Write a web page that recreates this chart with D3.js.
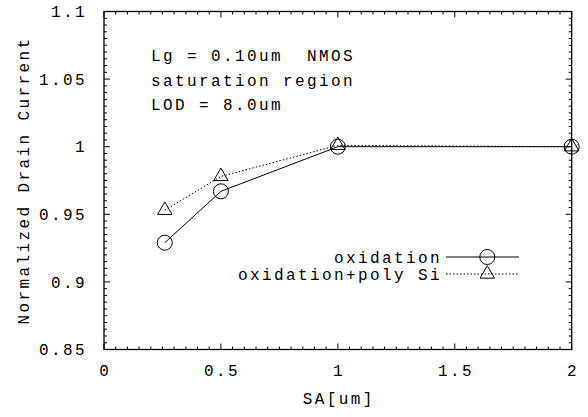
<!DOCTYPE html>
<html>
<head>
<meta charset="utf-8">
<script src="https://cdn.jsdelivr.net/npm/d3@7"></script>
<style>
body { margin: 0; background: #fff; }
text { font-family: "Liberation Mono", "Courier New", monospace; font-size: 16px; letter-spacing: 2.4px; fill: #000; white-space: pre; }
</style>
</head>
<body>
<script>
const sa = [0.26, 0.5, 1, 2];
const oxidation = [0.929, 0.967, 1.0, 1.0];
const polySa = [0.26, 0.5, 1, 2];
const oxidationPoly = [0.953, 0.978, 1.001, 1.0];
const xTicks = [0, 0.5, 1, 1.5, 2];
const yTicks = [0.85, 0.9, 0.95, 1, 1.05, 1.1];
const notes = ['Lg = 0.10um  NMOS', 'saturation region', 'LOD = 8.0um'];

const W = 588, H = 417;
const pL = 104, pR = 571.7, pT = 11.5, pB = 349.5;

const svg = d3.select('body').append('svg')
    .attr('width', W).attr('height', H);

const x = d3.scaleLinear().domain([0, 2]).range([pL, pR]);
const y = d3.scaleLinear().domain([0.85, 1.1]).range([pB, pT]);

// minor + major ticks, mirrored on all four sides, pointing inward
const xMinor = d3.range(0, 2.0001, 0.05);
const yMinor = d3.range(0.85, 1.10001, 0.005);
const isMajor = (v, step) => Math.abs(v / step - Math.round(v / step)) < 1e-6;

const g = svg.append('g').attr('stroke', '#000').attr('stroke-width', 1);
xMinor.forEach(v => {
    const len = isMajor(v, 0.5) ? 6 : 3;
    g.append('line').attr('x1', x(v)).attr('x2', x(v)).attr('y1', pB).attr('y2', pB - len);
    g.append('line').attr('x1', x(v)).attr('x2', x(v)).attr('y1', pT).attr('y2', pT + len);
});
yMinor.forEach(v => {
    const len = isMajor(v, 0.05) ? 6 : 3;
    g.append('line').attr('y1', y(v)).attr('y2', y(v)).attr('x1', pL).attr('x2', pL + len);
    g.append('line').attr('y1', y(v)).attr('y2', y(v)).attr('x1', pR).attr('x2', pR - len);
});

svg.append('rect')
    .attr('x', pL).attr('y', pT)
    .attr('width', pR - pL).attr('height', pB - pT)
    .attr('fill', 'none').attr('stroke', '#000').attr('stroke-width', 1.3);

svg.selectAll('.xt').data(xTicks).enter().append('text')
    .attr('x', d => x(d) + 1.2).attr('y', 376)
    .attr('text-anchor', 'middle')
    .text(d => d3.format('~g')(d));

svg.selectAll('.yt').data(yTicks).enter().append('text')
    .attr('x', 87).attr('y', d => y(d)).attr('dy', '0.35em')
    .attr('text-anchor', 'end')
    .text(d => d3.format('~g')(d));

svg.append('text')
    .attr('x', pL + (pR - pL) / 2 + 1).attr('y', 404)
    .attr('text-anchor', 'middle')
    .text('SA[um]');

svg.append('text')
    .attr('transform', `translate(29,${(pT + pB) / 2}) rotate(-90)`)
    .attr('text-anchor', 'middle')
    .text('Normalized Drain Current');

svg.selectAll('.note').data(notes).enter().append('text')
    .attr('x', 151).attr('y', (d, i) => 61 + i * 24.5)
    .text(d => d);

const line = d3.line().x(d => x(d[0])).y(d => y(d[1]));
const ptsA = sa.map((v, i) => [v, oxidation[i]]);
const ptsB = polySa.map((v, i) => [v, oxidationPoly[i]]);

const tri = d3.symbol().type(d3.symbolTriangle).size(90);

function circleAt(px, py) {
    svg.append('circle').attr('cx', px).attr('cy', py).attr('r', 7.5)
        .attr('fill', 'none').attr('stroke', '#000').attr('stroke-width', 1);
}
function triAt(px, py) {
    svg.append('path').attr('d', tri())
        .attr('transform', `translate(${px},${py})`)
        .attr('fill', 'none').attr('stroke', '#000').attr('stroke-width', 1);
}

svg.append('path').datum(ptsB).attr('d', line)
    .attr('fill', 'none').attr('stroke', '#000').attr('stroke-width', 1)
    .attr('stroke-dasharray', '1.5,2');
svg.append('path').datum(ptsA).attr('d', line)
    .attr('fill', 'none').attr('stroke', '#000').attr('stroke-width', 1);

ptsA.forEach(p => circleAt(x(p[0]), y(p[1])));
ptsB.forEach(p => triAt(x(p[0]), y(p[1])));

// legend
const legend = [['oxidation', false], ['oxidation+poly Si', true]];
legend.forEach((d, i) => {
    const ly = 257 + i * 17;
    svg.append('text').attr('x', 442).attr('y', ly).attr('dy', '0.35em')
        .attr('text-anchor', 'end').text(d[0]);
    svg.append('line').attr('x1', 446).attr('x2', 519).attr('y1', ly).attr('y2', ly)
        .attr('stroke', '#000').attr('stroke-width', 1)
        .attr('stroke-dasharray', d[1] ? '1.5,2' : null);
    if (d[1]) triAt(487.3, ly); else circleAt(487.3, ly);
});
</script>
</body>
</html>
